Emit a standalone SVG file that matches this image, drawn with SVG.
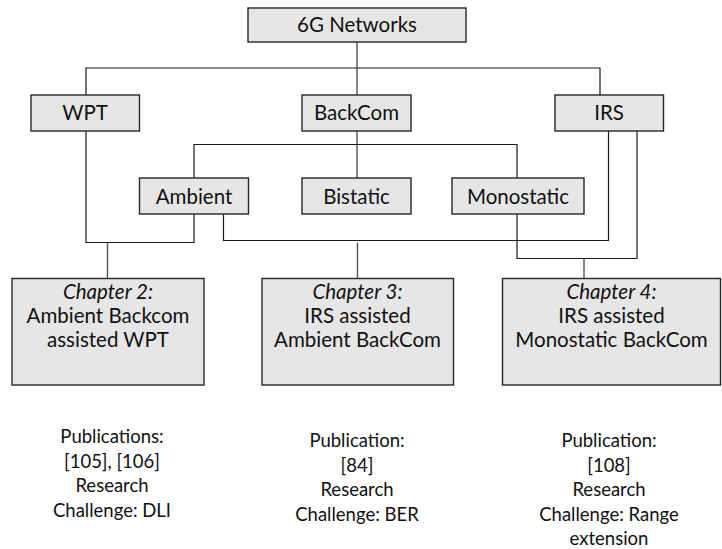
<svg xmlns="http://www.w3.org/2000/svg" width="722" height="549" viewBox="0 0 722 549">
  <style>
    .box { fill: #e6e6e6; stroke: #262626; stroke-width: 1.4; }
    .lbl { font-family: Lato, "Liberation Sans", sans-serif; font-size: 20.5px; fill: #111; text-anchor: middle; }
    .pub { font-size: 18.5px; }
    .it { font-style: italic; }
    .wire { fill: none; stroke: #1a1a1a; stroke-width: 1.2; }
    .wire-g { fill: none; stroke: #555; stroke-width: 1.4; }
  </style>
  <rect width="722" height="549" fill="#ffffff"/>

  <!-- connectors -->
  <g id="connectors">
    <!-- 6G Networks to the three technologies -->
    <line class="wire-g" x1="357" y1="42" x2="357" y2="95"/>
    <polyline class="wire" points="86,95 86,68 600,68 600,95"/>
    <!-- BackCom to its three modes -->
    <line class="wire-g" x1="357" y1="131" x2="357" y2="178"/>
    <polyline class="wire" points="194,178 194,144.5 517,144.5 517,178"/>
    <!-- WPT + Ambient to Chapter 2 -->
    <polyline class="wire" points="86,131 86,242.5 194,242.5 194,214"/>
    <line class="wire-g" x1="107.5" y1="242.5" x2="107.5" y2="278"/>
    <!-- Ambient + IRS to Chapter 3 -->
    <polyline class="wire" points="223.5,214 223.5,240.5 608.5,240.5 608.5,131"/>
    <line class="wire-g" x1="357.5" y1="242.5" x2="357.5" y2="278"/>
    <!-- Monostatic + IRS to Chapter 4 -->
    <polyline class="wire" points="517,214 517,258.5 637,258.5 637,131"/>
    <line class="wire-g" x1="584" y1="258.5" x2="584" y2="278"/>
  </g>

  <g id="n-6g">
    <rect class="box" x="248" y="8" width="218" height="34"/>
    <text class="lbl" x="357" y="31.5">6G Networks</text>
  </g>
  <g id="n-wpt">
    <rect class="box" x="31" y="95" width="108.5" height="36"/>
    <text class="lbl" x="85" y="120">WPT</text>
  </g>
  <g id="n-backcom">
    <rect class="box" x="302" y="95" width="109" height="36"/>
    <text class="lbl" x="356.5" y="120">BackCom</text>
  </g>
  <g id="n-irs">
    <rect class="box" x="555" y="95" width="108.5" height="36"/>
    <text class="lbl" x="609" y="120">IRS</text>
  </g>
  <g id="n-ambient">
    <rect class="box" x="139.5" y="178" width="109" height="36"/>
    <text class="lbl" x="194" y="203.5">Ambient</text>
  </g>
  <g id="n-bistatic">
    <rect class="box" x="302" y="178" width="109" height="36"/>
    <text class="lbl" x="356.5" y="203.5">Bistatic</text>
  </g>
  <g id="n-monostatic">
    <rect class="box" x="452" y="178" width="132" height="36"/>
    <text class="lbl" x="518" y="203.5">Monostatic</text>
  </g>

  <g id="n-ch2">
    <rect class="box" x="12" y="278.5" width="192" height="106.5"/>
    <text class="lbl" x="108" y="298.5"><tspan class="it">Chapter 2:</tspan><tspan x="108" dy="24">Ambient Backcom</tspan><tspan x="108" dy="24">assisted WPT</tspan></text>
  </g>
  <g id="n-ch3">
    <rect class="box" x="262" y="278.5" width="191.5" height="106.5"/>
    <text class="lbl" x="357.5" y="298.5"><tspan class="it">Chapter 3:</tspan><tspan x="357.5" dy="24">IRS assisted</tspan><tspan x="357.5" dy="24">Ambient BackCom</tspan></text>
  </g>
  <g id="n-ch4">
    <rect class="box" x="502.5" y="278.5" width="218" height="106.5"/>
    <text class="lbl" x="611.5" y="298.5"><tspan class="it">Chapter 4:</tspan><tspan x="611.5" dy="24">IRS assisted</tspan><tspan x="611.5" dy="24">Monostatic BackCom</tspan></text>
  </g>

  <!-- publication notes -->
  <g id="pub-ch2">
    <text class="lbl pub" x="112" y="443"><tspan>Publications:</tspan><tspan x="112" dy="24.5">[105], [106]</tspan><tspan x="112" dy="24.5">Research</tspan><tspan x="112" dy="24.5">Challenge: DLI</tspan></text>
  </g>
  <g id="pub-ch3">
    <text class="lbl pub" x="357" y="447"><tspan>Publication:</tspan><tspan x="357" dy="24.5">[84]</tspan><tspan x="357" dy="24.5">Research</tspan><tspan x="357" dy="24.5">Challenge: BER</tspan></text>
  </g>
  <g id="pub-ch4">
    <text class="lbl pub" x="609" y="447"><tspan>Publication:</tspan><tspan x="609" dy="24.5">[108]</tspan><tspan x="609" dy="24.5">Research</tspan><tspan x="609" dy="24.5">Challenge: Range</tspan><tspan x="609" dy="24.5">extension</tspan></text>
  </g>
</svg>
